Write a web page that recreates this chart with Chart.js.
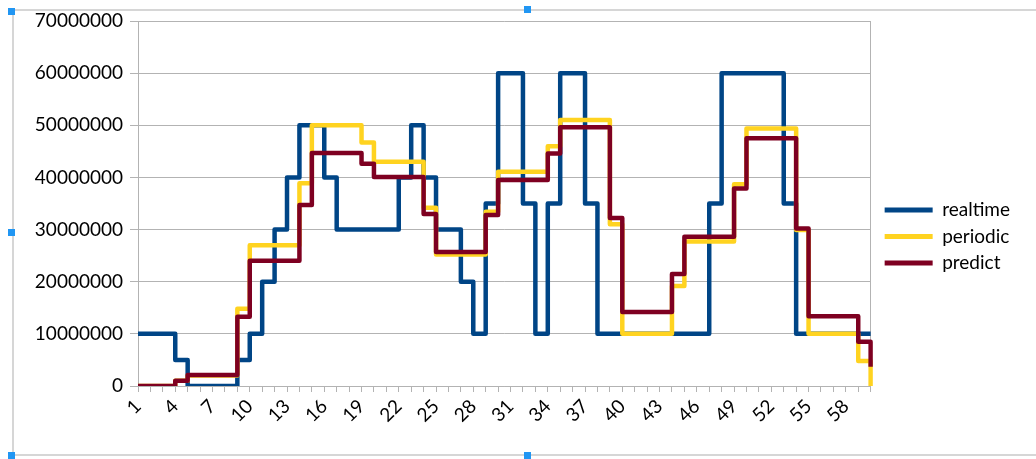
<!DOCTYPE html>
<html>
<head>
<meta charset="utf-8">
<script src="https://cdn.jsdelivr.net/npm/chart.js@4/dist/chart.umd.min.js"></script>
<style>
  html, body { margin: 0; padding: 0; background: #ffffff; }
  #wrap { position: relative; width: 1036px; height: 459px; overflow: hidden; }
  #chart { position: absolute; left: 0; top: 0; }
  .frame { position: absolute; background: #d6d6d6; }
  .handle { position: absolute; width: 7px; height: 7px; background: #2196f3; }
</style>
</head>
<body>
<div id="wrap">
  <canvas id="chart" width="1036" height="459"></canvas>
  <!-- selection frame around the chart object -->
  <div class="frame" style="left:12px; top:9px; width:1024px; height:2px;"></div>
  <div class="frame" style="left:12px; top:9px; width:2px; height:447px;"></div>
  <div class="frame" style="left:12px; top:454px; width:1024px; height:2px;"></div>
  <div class="handle" style="left:8px; top:8px;"></div>
  <div class="handle" style="left:524px; top:6px;"></div>
  <div class="handle" style="left:8px; top:229px;"></div>
  <div class="handle" style="left:8px; top:452px;"></div>
  <div class="handle" style="left:524px; top:452px;"></div>
</div>
<script>
const categories = [
  "1","2","3","4","5","6","7","8","9","10",
  "11","12","13","14","15","16","17","18","19","20",
  "21","22","23","24","25","26","27","28","29","30",
  "31","32","33","34","35","36","37","38","39","40",
  "41","42","43","44","45","46","47","48","49","50",
  "51","52","53","54","55","56","57","58","59","60"
];

const realtime = [
  10000000, 10000000, 10000000, 5000000, 0, 0, 0, 0, 5000000, 10000000,
  20000000, 30000000, 40000000, 50000000, 50000000, 40000000, 30000000, 30000000, 30000000, 30000000,
  30000000, 40000000, 50000000, 40000000, 30000000, 30000000, 20000000, 10000000, 35000000, 60000000,
  60000000, 35000000, 10000000, 35000000, 60000000, 60000000, 35000000, 10000000, 10000000, 10000000,
  10000000, 10000000, 10000000, 10000000, 10000000, 10000000, 35000000, 60000000, 60000000, 60000000,
  60000000, 60000000, 35000000, 10000000, 10000000, 10000000, 10000000, 10000000, 10000000, 10000000
];

const periodic = [
  0, 0, 0, 1000000, 2000000, 2000000, 2000000, 2000000, 14800000, 27000000,
  27000000, 27000000, 27000000, 38900000, 50000000, 50000000, 50000000, 50000000, 46700000, 43000000,
  43000000, 43000000, 43000000, 34200000, 25200000, 25200000, 25200000, 25200000, 33400000, 41100000,
  41100000, 41100000, 41100000, 46000000, 51000000, 51000000, 51000000, 51000000, 31000000, 10000000,
  10000000, 10000000, 10000000, 19200000, 27700000, 27700000, 27700000, 27700000, 38700000, 49400000,
  49400000, 49400000, 49400000, 29900000, 10000000, 10000000, 10000000, 10000000, 4800000, 0
];

const predict = [
  0, 0, 0, 1000000, 2100000, 2100000, 2100000, 2100000, 13300000, 24000000,
  24000000, 24000000, 24000000, 34700000, 44700000, 44700000, 44700000, 44700000, 42600000, 40100000,
  40100000, 40100000, 40100000, 33000000, 25700000, 25700000, 25700000, 25700000, 32800000, 39500000,
  39500000, 39500000, 39500000, 44600000, 49600000, 49600000, 49600000, 49600000, 32200000, 14200000,
  14200000, 14200000, 14200000, 21500000, 28600000, 28600000, 28600000, 28600000, 37900000, 47500000,
  47500000, 47500000, 47500000, 30200000, 13400000, 13400000, 13400000, 13400000, 8500000, 3700000
];

const yTicks = [0, 10000000, 20000000, 30000000, 40000000, 50000000, 60000000, 70000000];

const GRID = '#b3b3b3';
Chart.defaults.font.family = 'Lato, "Open Sans", sans-serif';
Chart.defaults.font.size = 19;
Chart.defaults.color = '#000000';

function series(label, data, color, order) {
  return {
    label: label,
    data: data,
    borderColor: color,
    backgroundColor: color,
    borderWidth: 4.5,
    stepped: true,
    pointRadius: 0,
    pointHoverRadius: 0,
    fill: false,
    borderJoinStyle: 'round',
    order: order
  };
}

new Chart(document.getElementById('chart'), {
  type: 'line',
  data: {
    labels: categories,
    datasets: [
      series('realtime', realtime, '#004586', 3),
      series('periodic', periodic, '#ffd320', 2),
      series('predict', predict, '#7e0021', 1)
    ]
  },
  options: {
    responsive: false,
    animation: false,
    devicePixelRatio: 1,
    layout: { padding: { top: 21, left: 0, right: 16, bottom: 7 } },
    plugins: {
      tooltip: { enabled: false },
      legend: {
        position: 'right',
        align: 'center',
        labels: {
          boxWidth: 48,
          boxHeight: 5,
          padding: 7.5,
          color: '#000000',
          font: { size: 19 },
          sort: (a, b) => a.datasetIndex - b.datasetIndex,
          generateLabels: (chart) =>
            Chart.defaults.plugins.legend.labels.generateLabels(chart)
              .map(item => Object.assign(item, { lineWidth: 0 }))
        }
      }
    },
    scales: {
      x: {
        type: 'category',
        offset: false,
        grid: { drawOnChartArea: false, drawTicks: true, tickLength: 6, color: GRID },
        border: { display: true, color: GRID },
        ticks: {
          autoSkip: false,
          minRotation: 45,
          maxRotation: 45,
          padding: 3,
          color: '#000000',
          callback: function (value, index) {
            return index % 3 === 0 ? this.getLabelForValue(value) : '';
          }
        },
        afterFit: (scale) => { scale.height = 66; }
      },
      y: {
        min: yTicks[0],
        max: yTicks[yTicks.length - 1],
        afterBuildTicks: (scale) => { scale.ticks = yTicks.map(v => ({ value: v })); },
        grid: { color: GRID, tickLength: 8, drawTicks: true },
        border: { display: true, color: GRID },
        ticks: {
          padding: 7,
          color: '#000000',
          callback: (v) => String(v)
        },
        afterFit: (scale) => { scale.width = 138; }
      },
      edge: {
        type: 'linear',
        position: 'right',
        display: true,
        grid: { display: false, drawTicks: false },
        ticks: { display: false },
        border: { display: true, color: GRID },
        afterFit: (scale) => { scale.width = 6.5; }
      }
    }
  }
});
</script>
</body>
</html>
